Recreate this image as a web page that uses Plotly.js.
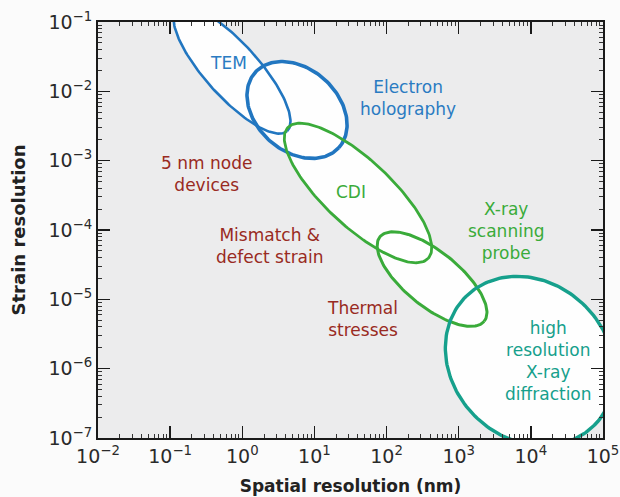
<!DOCTYPE html>
<html>
<head>
<meta charset="utf-8">
<script src="https://cdn.plot.ly/plotly-3.0.1.min.js"></script>
<style>html,body{margin:0;padding:0;background:#fbfbfb;}</style>
</head>
<body>
<div id="chart" style="width:620px;height:497px;"></div>
<script>
// Measurement techniques (ellipses in log-log space)
const techniques = ['TEM', 'Electron holography', 'CDI', 'X-ray scanning probe', 'High resolution X-ray diffraction'];
const centerNm = [0.72, 5.74, 40.2, 427, 9730];                       // spatial resolution (nm)
const centerStrain = [0.0203, 5.38e-3, 3.42e-4, 1.96e-5, 1.29e-6];    // strain resolution
const semiMajorDecades = [1.14, 0.78, 1.33, 0.93, 1.26];
const semiMinorDecades = [0.37, 0.57, 0.46, 0.38, 1.08];
const tiltDeg = [48, 42, 43, 39, 45];
const techColors = ['#2176c0', '#2176c0', '#3aab3a', '#3aab3a', '#16a08c'];
const techWidths = [2.6, 3.6, 2.8, 3.0, 3.4];

// Text labels
const labelTexts = ['TEM', 'Electron<br>holography', '5 nm node<br>devices', 'CDI',
  'Mismatch &amp;<br>defect strain', 'X-ray<br>scanning<br>probe', 'Thermal<br>stresses',
  'high<br>resolution<br>X-ray<br>diffraction'];
const labelNm = [0.634, 198, 0.324, 32.1, 2.42, 4530, 45.7, 17300];
const labelStrain = [0.02564, 8.02e-3, 6.43e-4, 3.53e-4, 5.87e-5, 9.66e-5, 5.2e-6, 1.29e-6];
const labelColors = ['#2a7bc2', '#2a7bc2', '#992a22', '#3aab3a', '#992a22', '#3aab3a', '#992a22', '#16a08c'];

// Axis ticks
const xTickVals = [1e-2, 1e-1, 1, 1e1, 1e2, 1e3, 1e4, 1e5];
const xTickText = ['10<sup>\u22122</sup>', '10<sup>\u22121</sup>', '10<sup>0</sup>', '10<sup>1</sup>',
  '10<sup>2</sup>', '10<sup>3</sup>', '10<sup>4</sup>', '10<sup>5</sup>'];
const yTickVals = [1e-7, 1e-6, 1e-5, 1e-4, 1e-3, 1e-2, 1e-1];
const yTickText = ['10<sup>\u22127</sup>', '10<sup>\u22126</sup>', '10<sup>\u22125</sup>', '10<sup>\u22124</sup>',
  '10<sup>\u22123</sup>', '10<sup>\u22122</sup>', '10<sup>\u22121</sup>'];

const aspect = 1.0405; // px per x-decade / px per y-decade
const N = 180;
function ellipse(i) {
  const xs = [], ys = [];
  const th = tiltDeg[i] * Math.PI / 180;
  const lx = Math.log10(centerNm[i]), ly = Math.log10(centerStrain[i]);
  for (let k = 0; k <= N; k++) {
    const t = 2 * Math.PI * k / N;
    const u = semiMajorDecades[i] * Math.cos(t), v = semiMinorDecades[i] * Math.sin(t);
    const dx = u * Math.cos(th) - v * Math.sin(th);
    const dy = u * Math.sin(th) + v * Math.cos(th);
    xs.push(Math.pow(10, lx + dx));
    ys.push(Math.pow(10, ly - dy * aspect));
  }
  return {xs, ys};
}

const traces = [];
techniques.forEach((name, i) => {
  const e = ellipse(i);
  traces.push({x: e.xs, y: e.ys, type: 'scatter', mode: 'lines', fill: 'toself',
    fillcolor: 'rgba(255,255,255,0.92)', line: {width: 0, color: 'rgba(0,0,0,0)'},
    hoverinfo: 'skip', showlegend: false});
});
techniques.forEach((name, i) => {
  const e = ellipse(i);
  traces.push({x: e.xs, y: e.ys, type: 'scatter', mode: 'lines', name: name,
    line: {width: techWidths[i], color: techColors[i]}, showlegend: false});
});

const FONT = 'DejaVu Sans, sans-serif';
const annotations = labelTexts.map((t, i) => ({
  x: Math.log10(labelNm[i]), y: Math.log10(labelStrain[i]), xref: 'x', yref: 'y',
  text: t, showarrow: false, align: 'center',
  font: {family: FONT, size: 17, color: labelColors[i]}
}));

const axisCommon = {
  type: 'log', showgrid: false, zeroline: false, showline: true, linecolor: '#1a1a1a',
  linewidth: 2, mirror: 'allticks', ticks: 'inside', ticklen: 12, tickwidth: 1.3,
  tickcolor: '#1a1a1a', tickmode: 'array',
  tickfont: {family: FONT, size: 19, color: '#2a2a2a'},
  minor: {ticks: 'inside', ticklen: 4, tickwidth: 1, tickcolor: '#333', dtick: 'D1', showgrid: false}
};

const layout = {
  width: 620, height: 497,
  margin: {l: 98, r: 17, t: 22, b: 59},
  paper_bgcolor: '#fbfbfb', plot_bgcolor: '#ececed',
  xaxis: Object.assign({}, axisCommon, {
    range: [-2, 5], tickvals: xTickVals, ticktext: xTickText,
    title: {text: 'Spatial resolution (nm)', standoff: 14,
      font: {family: FONT, size: 17, color: '#222', weight: 'bold'}}
  }),
  yaxis: Object.assign({}, axisCommon, {
    range: [-7, -1], tickvals: yTickVals, ticktext: yTickText,
    title: {text: 'Strain resolution', standoff: 18,
      font: {family: FONT, size: 18, color: '#222', weight: 'bold'}}
  }),
  annotations: annotations,
  showlegend: false
};

Plotly.newPlot('chart', traces, layout, {staticPlot: true});
</script>
</body>
</html>
